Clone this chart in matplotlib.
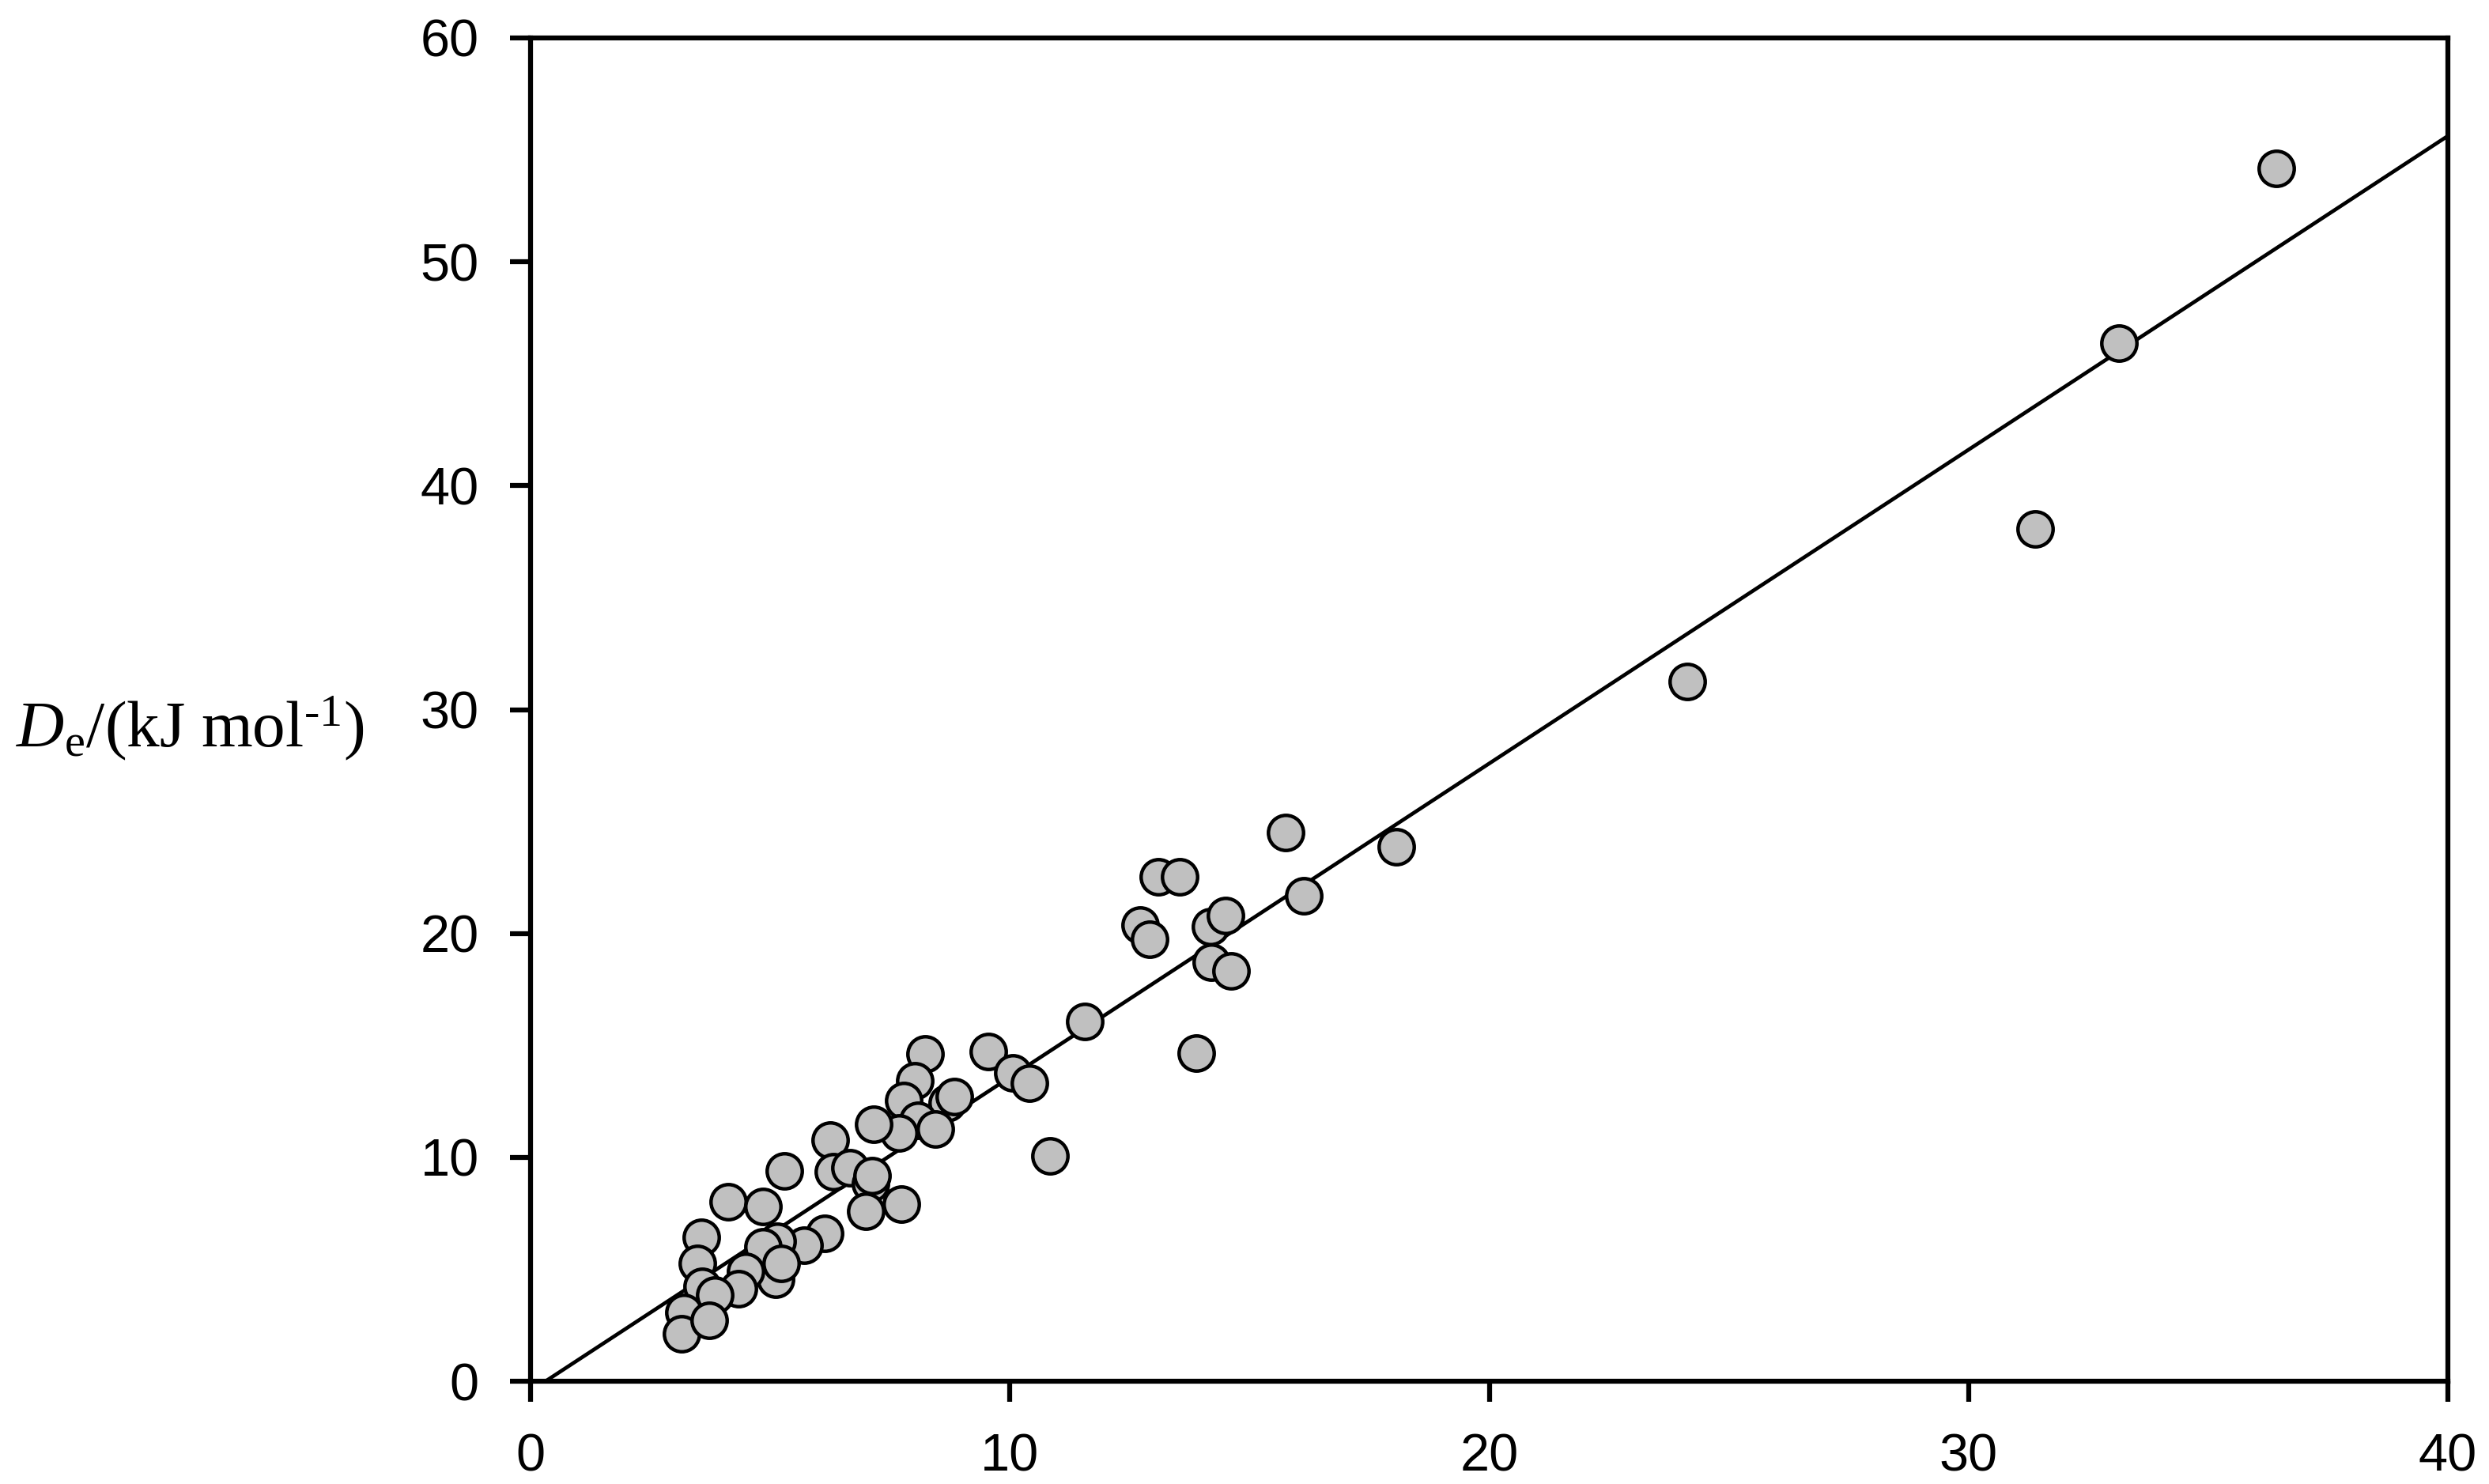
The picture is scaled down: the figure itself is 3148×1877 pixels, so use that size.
import numpy as np
import matplotlib.pyplot as plt

# data
x_vals = [36.42, 33.14, 31.39, 24.14, 18.07, 15.75, 16.14, 13.10, 13.54, 12.71,
          12.92, 14.18, 14.50, 14.20, 14.61, 13.89, 11.56, 10.84, 9.55, 10.07,
          10.40, 8.23, 8.01, 7.79, 8.70, 8.84, 8.09, 8.45, 7.68, 7.16,
          6.25, 5.30, 6.31, 6.66, 7.10, 7.13, 6.99, 7.73, 4.13, 4.85,
          6.14, 5.70, 5.15, 4.85, 5.12, 5.23, 4.49, 4.33, 3.56, 3.48,
          3.58, 3.85, 3.20, 3.15, 3.72]
y_vals = [54.18, 46.38, 38.08, 31.27, 23.88, 24.50, 21.69, 22.52, 22.52, 20.38,
          19.73, 20.32, 20.79, 18.73, 18.32, 14.67, 16.08, 10.08, 14.73, 13.78,
          13.31, 14.61, 13.43, 12.55, 12.43, 12.72, 11.66, 11.25, 11.08, 11.49,
          10.78, 9.39, 9.37, 9.52, 8.84, 9.19, 7.58, 7.90, 8.02, 7.80,
          6.60, 6.07, 6.25, 6.01, 4.54, 5.25, 4.90, 4.13, 6.43, 5.25,
          4.25, 3.85, 3.07, 2.13, 2.72]

# fitted line
slope = 1.4016
intercept = -0.44
x_fit_start = 0.31
x_fit_end = 40

x_ticks = [0, 10, 20, 30, 40]
y_ticks = [0, 10, 20, 30, 40, 50, 60]

plt.rcParams['mathtext.fontset'] = 'custom'
plt.rcParams['mathtext.rm'] = 'Liberation Serif'
plt.rcParams['mathtext.it'] = 'Liberation Serif:italic'

W, H = 3148, 1877
fig = plt.figure(figsize=(W / 100, H / 100), dpi=100)
ax = fig.add_axes([671 / W, (H - 1747) / H, (3096 - 671) / W, (1747 - 48) / H])

xf = np.array([x_fit_start, x_fit_end])
ax.plot(xf, slope * xf + intercept, color='black', linewidth=3.4, zorder=2)

ax.scatter(x_vals, y_vals, s=32**2, facecolor='#c0c0c0', edgecolor='black',
           linewidth=3.2, zorder=3)

ax.set_xlim(0, 40)
ax.set_ylim(0, 60)
ax.set_xticks(x_ticks)
ax.set_yticks(y_ticks)

for sp in ax.spines.values():
    sp.set_linewidth(4.5)
ax.tick_params(direction='out', length=19, width=4.5, pad=28,
               labelsize=48, top=False, right=False)
for lab in ax.get_xticklabels() + ax.get_yticklabels():
    lab.set_fontfamily('Liberation Sans')

# y label, horizontal, left of the axes
fig.text(20 / W, 1 - 945 / H,
         '$D_{\\mathrm{e}}\\mathrm{/(kJ\\ mol}^{\\mathrm{\u20101}}\\mathrm{)}$',
         fontsize=60, ha='left', va='baseline')

fig.savefig('out.png', dpi=100)
